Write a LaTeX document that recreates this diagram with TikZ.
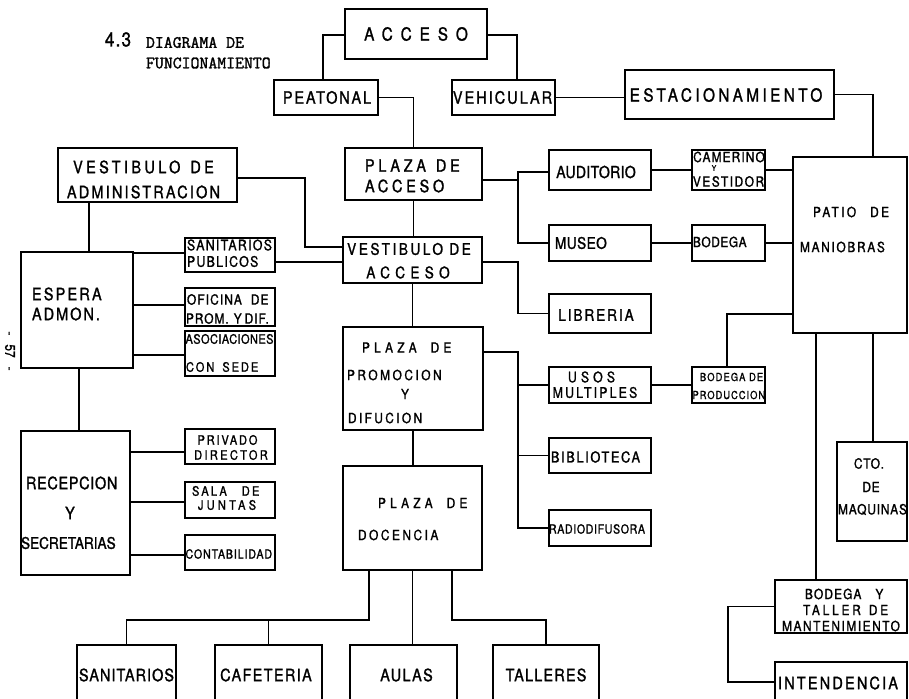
\documentclass[tikz,border=0pt]{standalone}
\usepackage{fontspec}
\setmainfont{TeX Gyre Heros}[FakeStretch=0.85, FakeBold=1.3]
\newfontfamily\titlefont{Latin Modern Mono}[FakeBold=1.6]
\tikzset{
  box/.style={draw, line width=1.3pt, inner sep=0pt, outer sep=0pt},
  txt/.style={inner sep=0pt, outer sep=0pt},
  conn/.style={line width=1.3pt},
}
\newcommand{\mybox}[5]{\node[box, minimum width={(#4-#2)*1pt}, minimum height={(#5-#3)*1pt}] (#1) at ({(#2+#4)/2},{(#3+#5)/2}) {};}
\newcommand{\mytext}[7]{\node[txt, anchor=#4, font=\fontsize{#5}{#5}\selectfont\addfontfeature{LetterSpace=#6}] (#1) at (#2,#3) {#7};}
\begin{document}
\begin{tikzpicture}[x=1pt,y=-1pt]
\useasboundingbox (0,0) rectangle (909,698);
\fill[white] (0,0) rectangle (909,698);
\clip (0,0) rectangle (909,698);

% ---------- boxes ----------
\mybox{acceso}{345}{9}{487}{59}
\mybox{peatonal}{274}{80}{378}{115}
\mybox{vehicular}{452}{80}{555}{115}
\mybox{estac}{625}{70}{834}{119}
\mybox{pacceso}{345}{148}{482}{200}
\mybox{vadmin}{58}{148}{237}{202}
\mybox{auditorio}{549}{150}{651}{190}
\mybox{camerino}{692}{150}{765}{190}
\mybox{patio}{793}{157}{907}{333}
\mybox{museo}{549}{225}{651}{261}
\mybox{bodega}{692}{225}{765}{261}
\mybox{vacceso}{343}{237}{482}{283}
\mybox{sanpub}{185}{238}{275}{272}
\mybox{espera}{21}{252}{133}{368}
\mybox{oficina}{185}{288}{275}{326}
\mybox{libreria}{549}{294}{651}{333}
\mybox{asoc}{185}{331}{275}{376}
\mybox{pprom}{343}{327}{483}{430}
\mybox{usos}{549}{367}{651}{403}
\mybox{bprod}{692}{367}{765}{403}
\mybox{cto}{837}{442}{907}{541}
\mybox{biblio}{549}{438}{651}{473}
\mybox{privado}{185}{429}{275}{464}
\mybox{recep}{21}{431}{130}{575}
\mybox{pdoc}{343}{466}{482}{570}
\mybox{sala}{185}{482}{275}{518}
\mybox{radio}{549}{510}{651}{546}
\mybox{contab}{185}{535}{275}{570}
\mybox{btaller}{775}{580}{907}{633}
\mybox{interd}{775}{662}{907}{712}
\mybox{sanit}{77}{645}{176}{712}
\mybox{cafe}{215}{645}{322}{712}
\mybox{aulas}{350}{645}{457}{712}
\mybox{talleres}{493}{645}{599}{712}

% ---------- title and page number ----------
\mytext{t43}{105}{39.5}{west}{20}{6}{4.3}
\node[txt, anchor=west, font=\titlefont\fontsize{17.3}{17.3}\selectfont] (tdiag) at (146,42.5) {DIAGRAMA DE};
\node[txt, anchor=west, font=\titlefont\fontsize{17.3}{17.3}\selectfont] (tfunc) at (146,63) {FUNCIONAMIENTO};
\node[txt, rotate=-90, font=\fontsize{14}{14}\selectfont] (pg) at (10,351) {-\hspace{9pt}57\hspace{9pt}-};

% ---------- labels ----------
\mytext{acceso-t}{416}{34}{center}{18}{44}{ACCESO}
\mytext{peat-t}{327}{97.5}{center}{17}{11}{PEATONAL}
\mytext{veh-t}{502.5}{97.5}{center}{17}{12}{VEHICULAR}
\mytext{est-t}{726}{95}{center}{18}{19}{ESTACIONAMIENTO}
\mytext{pacc-t1}{365}{165.5}{west}{17}{22}{PLAZA\hspace{10pt}DE}
\mytext{pacc-t2}{365}{186}{west}{17}{22}{ACCESO}
\mytext{vadm-t1}{143.5}{167}{center}{17}{20}{VESTIBULO\hspace{10pt}DE}
\mytext{vadm-t2}{143.5}{192}{center}{17}{13}{ADMINISTRACION}
\mytext{aud-t}{596}{172}{center}{16.5}{2}{AUDITORIO}
\mytext{cam-t1}{729}{157}{center}{14}{8}{CAMERINO}
\mytext{cam-t2}{714}{168}{center}{8}{0}{Y}
\mytext{cam-t3}{728.5}{181.5}{center}{14}{11}{VESTIDOR}
\mytext{mus-t}{555}{243}{west}{16}{3}{MUSEO}
\mytext{bod-t}{693}{242}{west}{14}{4}{BODEGA}
\mytext{pat-t1}{813}{212}{west}{14}{17}{PATIO\hspace{14pt}DE}
\mytext{pat-t2}{800}{247}{west}{14}{12}{MANIOBRAS}
\mytext{vacc-t1}{409}{249}{center}{16}{16}{VESTIBULO DE}
\mytext{vacc-t2}{408}{272.5}{center}{16}{33}{ACCESO}
\mytext{sp-t1}{187}{245}{west}{14.5}{9}{SANITARIOS}
\mytext{sp-t2}{187}{261.5}{west}{14.5}{9}{PUBLICOS}
\mytext{of-t1}{187}{299.5}{west}{14}{8}{OFICINA\hspace{9pt}DE}
\mytext{of-t2}{186}{318.5}{west}{14}{7}{PROM.\hspace{5pt}Y\hspace{3pt}DIF.}
\mytext{as-t1}{185.5}{339}{west}{13}{3}{ASOCIACIONES}
\mytext{as-t2}{186}{367}{west}{13}{15}{CON\hspace{8pt}SEDE}
\mytext{esp-t1}{32}{294}{west}{17}{13}{ESPERA}
\mytext{esp-t2}{32}{314}{west}{17}{12}{ADMON.}
\mytext{lib-t}{596}{315}{center}{16}{12}{LIBRERIA}
\mytext{pp-t1}{362}{347.5}{west}{14}{30}{PLAZA\hspace{14pt}DE}
\mytext{pp-t2}{347}{375}{west}{14}{18}{PROMOCION}
\mytext{pp-t3}{405}{394}{center}{14}{0}{Y}
\mytext{pp-t4}{348}{418}{west}{14}{17}{DIFUCION}
\mytext{us-t1}{591.5}{377}{center}{14.5}{28}{USOS}
\mytext{us-t2}{595}{392.5}{center}{14.5}{15}{MULTIPLES}
\mytext{bp-t1}{700}{377}{west}{11}{10}{BODEGA DE}
\mytext{bp-t2}{692.5}{395}{west}{11}{9}{PRODUCCION}
\mytext{bib-t}{551}{457}{west}{15}{11}{BIBLIOTECA}
\mytext{rad-t}{549}{529}{west}{12.5}{5}{RADIODIFUSORA}
\mytext{cto-t1}{869}{463.5}{center}{14}{5}{CTO.}
\mytext{cto-t2}{871}{487}{center}{14}{5}{DE}
\mytext{cto-t3}{872.5}{509.5}{center}{14}{6}{MAQUINAS}
\mytext{bt-t1}{805}{594}{west}{14}{8}{BODEGA\hspace{14pt}Y}
\mytext{bt-t2}{803}{610}{west}{14}{20}{TALLER\hspace{8pt}DE}
\mytext{bt-t3}{841}{626}{center}{14}{11}{MANTENIMIENTO}
\mytext{int-t}{838}{683}{center}{17}{13}{INTENDENCIA}
\mytext{rec-t1}{26}{483}{west}{17}{4}{RECEPCION}
\mytext{rec-t2}{70}{513}{center}{17}{0}{Y}
\mytext{rec-t3}{21}{543}{west}{16}{0}{SECRETARIAS}
\mytext{pr-t1}{227.5}{440}{center}{13}{14}{PRIVADO}
\mytext{pr-t2}{231}{455}{center}{13}{18}{DIRECTOR}
\mytext{sa-t1}{192}{491}{west}{13}{17}{SALA\hspace{15pt}DE}
\mytext{sa-t2}{227}{505}{center}{13}{25}{JUNTAS}
\mytext{ct-t}{185.5}{554}{west}{12.5}{7}{CONTABILIDAD}
\mytext{pd-t1}{378}{503}{west}{14}{30}{PLAZA\hspace{14pt}DE}
\mytext{pd-t2}{358}{535}{west}{14}{18}{DOCENCIA}
\mytext{san-t}{126.5}{675}{center}{17}{6}{SANITARIOS}
\mytext{caf-t}{266}{675}{center}{17}{8}{CAFETERIA}
\mytext{aul-t}{406.5}{675}{center}{17}{8}{AULAS}
\mytext{tal-t}{546}{675}{center}{17}{7}{TALLERES}

% ---------- connectors ----------
\draw[conn] ([yshift=-1]acceso.west) -| ([xshift=-3]peatonal.north);
\draw[conn] ([yshift=-1]acceso.east) -| ([xshift=13.5]vehicular.north);
\draw[conn] (peatonal.east) -| (pacceso.north);
\draw[conn] (vehicular.east) -- (vehicular.east -| estac.west);
\draw[conn] (estac.east) -| ([xshift=23]patio.north);
\draw[conn] ([yshift=-6]pacceso.east) -- ++(36,0);
\draw[conn] ([yshift=-2]auditorio.west) -- ++(-31,0) |- (museo.west);
\draw[conn] (auditorio.east) -- (camerino.west);
\draw[conn] (camerino.east) -- (camerino.east -| patio.west);
\draw[conn] (museo.east) -- (bodega.west);
\draw[conn] (bodega.east) -- (bodega.east -| patio.west);
\draw[conn] (pacceso.south) -- (pacceso.south |- vacceso.north);
\draw[conn] ([yshift=-3]vadmin.east) -- ++(68,0) |- ([yshift=13]vacceso.west);
\draw[conn] ([yshift=-2]vacceso.west) -- ++(-68,0);
\draw[conn] ([yshift=-2]vacceso.east) -- ++(36,0) |- (libreria.west);
\draw[conn] ([xshift=12]espera.north) -- ++(0,-50);
\draw[conn] ([yshift=2]sanpub.west) -- ++(-52,0);
\draw[conn] ([yshift=2]oficina.west) -- ++(-52,0);
\draw[conn] ([yshift=-1.5]asoc.west) -- ++(-52,0);
\draw[conn] ([xshift=2]espera.south) -- ++(0,63);
\draw[conn] ([yshift=-5.5]privado.west) -- ++(-55,0);
\draw[conn] ([yshift=-2]sala.west) -- ++(-55,0);
\draw[conn] ([yshift=-2.5]contab.west) -- ++(-55,0);
\draw[conn] (vacceso.south) -- (vacceso.south |- pprom.north);
\draw[conn] ([yshift=26.5]pprom.east) -- ++(35,0) |- (radio.west);
\draw[conn] (usos.west) -- ++(-31,0);
\draw[conn] (biblio.west) -- ++(-31,0);
\draw[conn] (usos.east) -- (bprod.west);
\draw[conn] ([xshift=-1.5]bprod.north) |- ([yshift=-69]patio.west);
\draw[conn] ([xshift=-34]patio.south) -- ++(0,247);
\draw[conn] ([xshift=23]patio.south) -- ++(0,109);
\draw[conn] (btaller.west) -- ++(-47,0) |- ([yshift=5]interd.west);
\draw[conn] (pprom.south) -- (pprom.south |- pdoc.north);
\draw[conn] ([xshift=-43.5]pdoc.south) -- ++(0,50) -| (sanit.north);
\draw[conn] (cafe.north) -- ++(0,-25);
\draw[conn] (pdoc.south) -- (pdoc.south |- aulas.north);
\draw[conn] ([xshift=39.5]pdoc.south) -- ++(0,50) -| (talleres.north);
\end{tikzpicture}
\end{document}
